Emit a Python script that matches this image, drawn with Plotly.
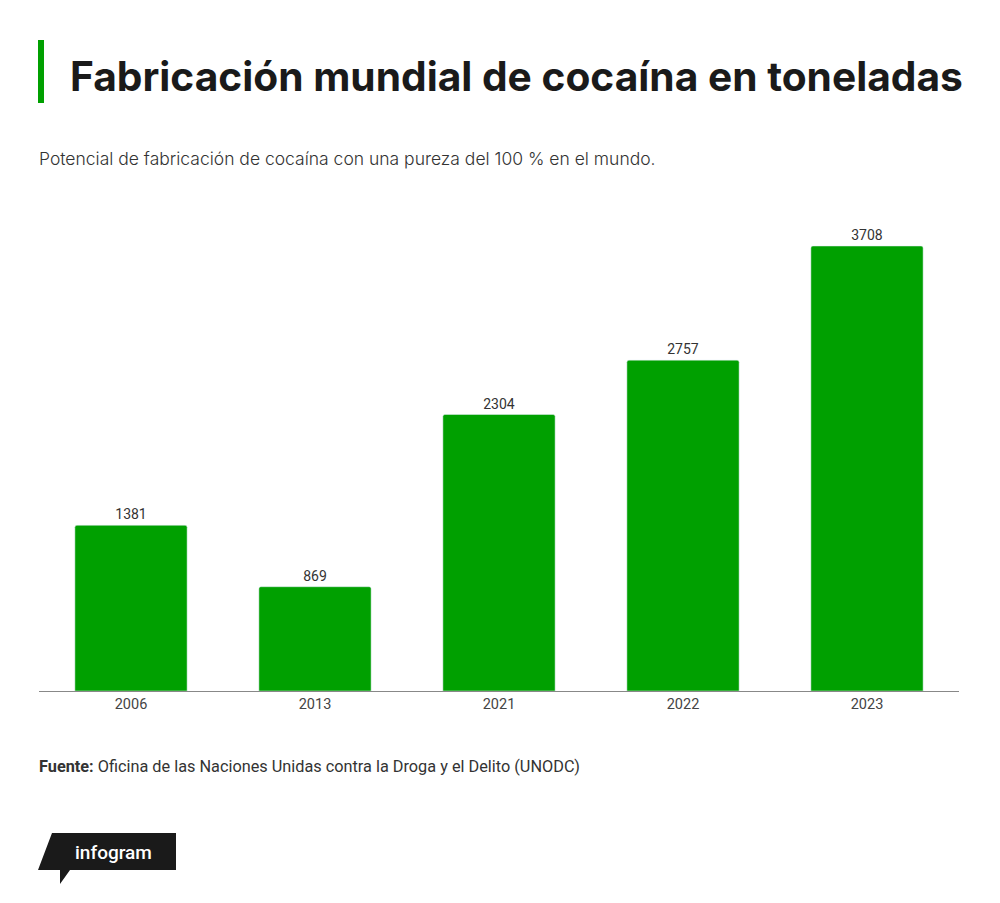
import plotly.graph_objects as go

years = ["2006", "2013", "2021", "2022", "2023"]
toneladas = [1381, 869, 2304, 2757, 3708]

# page body adds an 8px offset
OFF = 8
W, H = 992, 895
L, R, T, B = 39 - OFF, 41, 200 - OFF, 212
pw, ph = W - L - R, H - T - B


def px(x):
    return (x - OFF - L) / pw


def py(y):
    return (H - B - (y - OFF)) / ph


fig = go.Figure()

fig.add_trace(go.Bar(
    x=years, y=toneladas,
    marker=dict(color="#00a000", cornerradius=2),
    text=[str(v) for v in toneladas],
    textposition="outside",
    textfont=dict(family="Roboto", size=14, color="#333333"),
    cliponaxis=False,
    hoverinfo="skip",
))

# title with green bar
fig.add_shape(type="rect", xref="paper", yref="paper",
              x0=px(38), x1=px(44), y0=py(103), y1=py(40),
              fillcolor="#00a000", line_width=0)
fig.add_annotation(xref="paper", yref="paper", x=px(68), y=py(76),
                   xanchor="left", yanchor="middle", showarrow=False,
                   text="<b>Fabricación mundial de cocaína en toneladas</b>",
                   font=dict(family="Inter", size=40.7, color="#1a1a1a", weight=900))
fig.add_annotation(xref="paper", yref="paper", x=px(37), y=py(158),
                   xanchor="left", yanchor="middle", showarrow=False,
                   text="Potencial de fabricación de cocaína con una pureza del 100 % en el mundo.",
                   font=dict(family="Inter", size=17.5, color="#333333", weight=300))

# source
fig.add_annotation(xref="paper", yref="paper", x=px(37), y=py(766),
                   xanchor="left", yanchor="middle", showarrow=False,
                   text="<b>Fuente:</b> Oficina de las Naciones Unidas contra la Droga y el Delito (UNODC)",
                   font=dict(family="Roboto", size=16.3, color="#333333"))

# infogram logo
logo = (f"M {px(52)},{py(833)} L {px(176)},{py(833)} L {px(176)},{py(870)} "
        f"L {px(70)},{py(870)} L {px(60)},{py(884)} L {px(60)},{py(870)} "
        f"L {px(38)},{py(870)} Z")
fig.add_shape(type="path", xref="paper", yref="paper", path=logo,
              fillcolor="#1a1a1a", line_width=0)
fig.add_annotation(xref="paper", yref="paper", x=px(113), y=py(852),
                   xanchor="center", yanchor="middle", showarrow=False,
                   text="infogram",
                   font=dict(family="Roboto", size=19, color="white", weight=500))

fig.update_layout(
    width=W, height=H,
    margin=dict(l=L, r=R, t=T, b=B),
    paper_bgcolor="white", plot_bgcolor="white",
    bargap=0.39,
    showlegend=False,
    xaxis=dict(showline=True, linecolor="#888888", linewidth=1,
               tickfont=dict(family="Roboto", size=14.5, color="#444444"),
               ticks="", fixedrange=True),
    yaxis=dict(range=[0, ph / (445 / 3708)], visible=False,
               showgrid=False, zeroline=False, fixedrange=True),
)

fig.write_html("out.html")
